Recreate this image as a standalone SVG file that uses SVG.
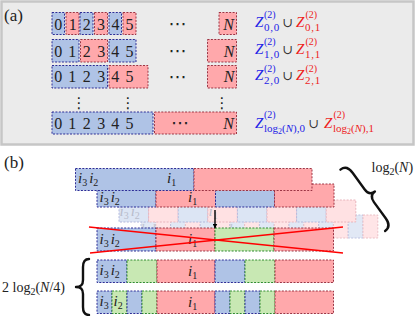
<svg xmlns="http://www.w3.org/2000/svg" width="416" height="316" viewBox="0 0 416 316">
<style>
.b{fill:#afc3e6;stroke:#2c2c96;stroke-width:1;stroke-dasharray:2 1.4}
.r{fill:#ffa8ab;stroke:#9c3444;stroke-width:1;stroke-dasharray:2 1.4}
.g{fill:#c8e8b3;stroke:#2f8c2f;stroke-width:1;stroke-dasharray:2 1.4}
.fb{fill:#dce5f4;stroke:#b3b8dc;stroke-width:1;stroke-dasharray:2 1.4}
.fr{fill:#ffe1e3;stroke:#e8b4bc;stroke-width:1;stroke-dasharray:2 1.4}
.t{font-family:"Liberation Serif",serif;font-size:16px;fill:#222}
.it{font-family:"Liberation Serif",serif;font-style:italic;font-size:15px;fill:#222}
.fi{font-family:"Liberation Serif",serif;font-style:italic;font-size:15px;fill:#b8bccb}
.s{font-style:normal;font-size:10px}
.dots{font-family:"DejaVu Sans",sans-serif;font-size:18px;fill:#222;text-anchor:middle}
.zb{font-family:"Liberation Serif",serif;font-style:italic;font-size:15px;fill:#2222e6}
.zr{font-family:"Liberation Serif",serif;font-style:italic;font-size:15px;fill:#ee1c1c}
.sp{font-family:"Liberation Serif",serif;font-size:10px}
.sb{font-family:"Liberation Serif",serif;font-size:11px;letter-spacing:0.8px}
.cup{font-family:"DejaVu Serif",serif;font-size:13px;fill:#333;text-anchor:middle}
.xl{stroke:#ff0000;stroke-width:1.6;fill:none}
.br{fill:none;stroke:#111;stroke-width:2.4;stroke-linecap:round;stroke-linejoin:round}
</style>
<defs>
<marker id="ah" viewBox="0 0 10 10" refX="9" refY="5" markerWidth="5" markerHeight="5" orient="auto" markerUnits="userSpaceOnUse">
<path d="M0,0 L10,5 L0,10 z" fill="#000"/>
</marker>
</defs>

<!-- Panel (a) -->
<g id="panel-a">
<rect x="1.5" y="1.5" width="412" height="143" fill="#ebebeb" stroke="#c6c6c6" stroke-width="2.5"/>
<text x="4" y="21" class="t" style="font-size:17px">(a)</text>
</g>

<g id="a-row1">
<rect class="b" x="52" y="12.5" width="12.5" height="22"/>
<rect class="r" x="66" y="12.5" width="13" height="22"/>
<rect class="b" x="80" y="12.5" width="13" height="22"/>
<rect class="r" x="94.5" y="12.5" width="13" height="22"/>
<rect class="b" x="109" y="12.5" width="12.5" height="22"/>
<rect class="r" x="123" y="12.5" width="13" height="22"/>
<rect class="r" x="219" y="12.5" width="17.5" height="22"/>
<text class="t" y="29.5" text-anchor="middle"><tspan x="58.3">0</tspan><tspan x="72.7">1</tspan><tspan x="86.7">2</tspan><tspan x="100.9">3</tspan><tspan x="115.5">4</tspan><tspan x="129.4">5</tspan></text>
<text class="dots" x="177.5" y="29.5">⋯</text>
<text class="it" style="font-size:16px" x="228.5" y="29.5" text-anchor="middle">N</text>
</g>

<g id="a-row2">
<rect class="b" x="52" y="39.5" width="27" height="22.5"/>
<rect class="r" x="80.5" y="39.5" width="27" height="22.5"/>
<rect class="b" x="109" y="39.5" width="27" height="22.5"/>
<rect class="r" x="207.5" y="39.5" width="29" height="22.5"/>
<text class="t" y="56.5" text-anchor="middle"><tspan x="58.3">0</tspan><tspan x="72.3">1</tspan><tspan x="86.7">2</tspan><tspan x="101.2">3</tspan><tspan x="115.3">4</tspan><tspan x="129.4">5</tspan></text>
<text class="dots" x="177.5" y="57">⋯</text>
<text class="it" style="font-size:16px" x="229" y="56.5" text-anchor="middle">N</text>
</g>

<g id="a-row3">
<rect class="b" x="52" y="65.5" width="55.5" height="22.5"/>
<rect class="r" x="109" y="65.5" width="39" height="22.5"/>
<rect class="r" x="207.5" y="65.5" width="29" height="22.5"/>
<text class="t" y="82" text-anchor="middle"><tspan x="58.3">0</tspan><tspan x="72.3">1</tspan><tspan x="86.7">2</tspan><tspan x="101.2">3</tspan><tspan x="115.3">4</tspan><tspan x="129.4">5</tspan></text>
<text class="dots" x="177.5" y="82.5">⋯</text>
<text class="it" style="font-size:16px" x="229" y="82" text-anchor="middle">N</text>
</g>

<g id="a-vdots">
<text class="dots" style="font-size:15px" x="79" y="108">⋮</text>
<text class="dots" style="font-size:15px" x="128" y="108">⋮</text>
<text class="dots" style="font-size:15px" x="222" y="108">⋮</text>
</g>

<g id="a-row4">
<rect class="b" x="52" y="112" width="101" height="22"/>
<rect class="r" x="154.5" y="112" width="82" height="22"/>
<text class="t" y="128.5" text-anchor="middle"><tspan x="58.3">0</tspan><tspan x="72.3">1</tspan><tspan x="86.7">2</tspan><tspan x="101.2">3</tspan><tspan x="115.3">4</tspan><tspan x="129.4">5</tspan></text>
<text class="dots" x="180" y="129">⋯</text>
<text class="it" style="font-size:16px" x="228.5" y="128.5" text-anchor="middle">N</text>
</g>

<g id="a-labels">
<text class="zb" x="255" y="26.5">Z</text><text class="sp" fill="#2222e6" x="264" y="18">(2)</text><text class="sb" fill="#2222e6" x="264" y="30.5">0,0</text>
<text class="cup" x="288" y="26.5">∪</text>
<text class="zr" x="296" y="26.5">Z</text><text class="sp" fill="#ee1c1c" x="305.5" y="18">(2)</text><text class="sb" fill="#ee1c1c" x="305" y="30.5">0,1</text>

<text class="zb" x="255" y="53.5">Z</text><text class="sp" fill="#2222e6" x="264" y="45">(2)</text><text class="sb" fill="#2222e6" x="264" y="57.5">1,0</text>
<text class="cup" x="288" y="53.5">∪</text>
<text class="zr" x="296" y="53.5">Z</text><text class="sp" fill="#ee1c1c" x="305.5" y="45">(2)</text><text class="sb" fill="#ee1c1c" x="305" y="57.5">1,1</text>

<text class="zb" x="255" y="80">Z</text><text class="sp" fill="#2222e6" x="264" y="71.5">(2)</text><text class="sb" fill="#2222e6" x="264" y="84">2,0</text>
<text class="cup" x="288" y="80">∪</text>
<text class="zr" x="296" y="80">Z</text><text class="sp" fill="#ee1c1c" x="305.5" y="71.5">(2)</text><text class="sb" fill="#ee1c1c" x="305" y="84">2,1</text>

<text class="zb" x="255" y="128">Z</text><text class="sp" fill="#2222e6" x="264" y="118">(2)</text>
<text font-family="Liberation Serif, serif" font-size="11" fill="#2222e6" x="264" y="131.5">log<tspan font-size="8" dy="2">2</tspan><tspan dy="-2">(</tspan><tspan font-style="italic">N</tspan>),0</text>
<text class="cup" x="314" y="128">∪</text>
<text class="zr" x="324" y="128">Z</text><text class="sp" fill="#ee1c1c" x="333.5" y="118">(2)</text>
<text font-family="Liberation Serif, serif" font-size="11" fill="#ee1c1c" x="333" y="131.5">log<tspan font-size="8" dy="2">2</tspan><tspan dy="-2">(</tspan><tspan font-style="italic">N</tspan>),1</text>
</g>

<!-- Panel (b) -->
<g id="panel-b">
<text x="4" y="168" class="t" style="font-size:17px">(b)</text>
</g>

<g id="b-row4" opacity="0.85">
<rect class="fb" x="141" y="215" width="14.8" height="23"/>
<rect class="fr" x="155.8" y="215" width="14.8" height="23"/>
<rect class="fb" x="170.6" y="215" width="14.8" height="23"/>
<rect class="fr" x="185.4" y="215" width="14.8" height="23"/>
<rect class="fb" x="200.2" y="215" width="14.8" height="23"/>
<rect class="fr" x="215" y="215" width="14.8" height="23"/>
<rect class="fb" x="229.8" y="215" width="14.8" height="23"/>
<rect class="fr" x="244.6" y="215" width="14.8" height="23"/>
<rect class="fb" x="259.4" y="215" width="14.8" height="23"/>
<rect class="fr" x="274.2" y="215" width="14.8" height="23"/>
<rect class="fb" x="289" y="215" width="14.8" height="23"/>
<rect class="fr" x="303.8" y="215" width="14.8" height="23"/>
<rect class="fb" x="318.6" y="215" width="14.8" height="23"/>
<rect class="fr" x="333.4" y="215" width="14.8" height="23"/>
<rect class="fb" x="348.2" y="215" width="14.8" height="23"/>
<rect class="fr" x="363" y="215" width="14.8" height="23"/>
<text class="fi" x="141" y="231">i<tspan class="s" dy="3">3</tspan><tspan dx="2" dy="-3">i</tspan><tspan class="s" dy="3">2</tspan></text>
<text class="fi" x="229" y="231">i<tspan class="s" dy="3">1</tspan></text>
</g>

<g id="b-row3">
<rect class="fb" x="119" y="200" width="29.6" height="22"/>
<rect class="fr" x="148.6" y="200" width="29.6" height="22"/>
<rect class="fb" x="178.2" y="200" width="29.6" height="22"/>
<rect class="fr" x="207.8" y="200" width="29.6" height="22"/>
<rect class="fb" x="237.4" y="200" width="29.6" height="22"/>
<rect class="fr" x="267" y="200" width="29.6" height="22"/>
<rect class="fb" x="296.6" y="200" width="29.6" height="22"/>
<rect class="fr" x="326.2" y="200" width="29.6" height="22"/>
<text class="fi" x="119.5" y="216">i<tspan class="s" dy="3">3</tspan><tspan dx="2" dy="-3">i</tspan><tspan class="s" dy="3">2</tspan></text>
<text class="fi" x="208.5" y="216">i<tspan class="s" dy="3">1</tspan></text>
</g>

<g id="b-row2">
<rect class="b" x="97" y="184" width="59" height="23"/>
<rect class="r" x="156" y="184" width="59.5" height="23"/>
<rect class="b" x="215.5" y="184" width="59" height="23"/>
<rect class="r" x="274.5" y="184" width="59.5" height="23"/>
<text class="it" x="99.5" y="201.5">i<tspan class="s" dy="3">3</tspan><tspan dx="2" dy="-3">i</tspan><tspan class="s" dy="3">2</tspan></text>
<text class="it" x="188" y="201.5">i<tspan class="s" dy="3">1</tspan></text>
</g>

<g id="b-row1">
<rect class="b" x="75.5" y="168.5" width="118.5" height="22"/>
<rect class="r" x="194" y="168.5" width="118" height="22"/>
<text class="it" x="78" y="183">i<tspan class="s" dy="3">3</tspan><tspan dx="2" dy="-3">i</tspan><tspan class="s" dy="3">2</tspan></text>
<text class="it" x="167" y="183">i<tspan class="s" dy="3">1</tspan></text>
</g>

<g id="b-crossed">
<rect class="b" x="97" y="228" width="59" height="23"/>
<rect class="r" x="156" y="228" width="59" height="23"/>
<rect class="g" x="215" y="228" width="59" height="23"/>
<rect class="r" x="274" y="228" width="59.5" height="23"/>
<text class="it" x="99.5" y="243.5">i<tspan class="s" dy="3">3</tspan><tspan dx="2" dy="-3">i</tspan><tspan class="s" dy="3">2</tspan></text>
<text class="it" x="188" y="243.5">i<tspan class="s" dy="3">1</tspan></text>
</g>

<g id="b-rowL1">
<rect class="b" x="97" y="260" width="30" height="22.5"/>
<rect class="g" x="127" y="260" width="30" height="22.5"/>
<rect class="r" x="157" y="260" width="58" height="22.5"/>
<rect class="b" x="215" y="260" width="30" height="22.5"/>
<rect class="g" x="245" y="260" width="30" height="22.5"/>
<rect class="r" x="275" y="260" width="58.5" height="22.5"/>
<text class="it" x="99.5" y="275">i<tspan class="s" dy="3">3</tspan><tspan dx="2" dy="-3">i</tspan><tspan class="s" dy="3">2</tspan></text>
<text class="it" x="188" y="275.5">i<tspan class="s" dy="3">1</tspan></text>
</g>

<g id="b-rowL2">
<rect class="b" x="97" y="291" width="15" height="22.5"/>
<rect class="g" x="112" y="291" width="15" height="22.5"/>
<rect class="b" x="127" y="291" width="15" height="22.5"/>
<rect class="g" x="142" y="291" width="15" height="22.5"/>
<rect class="r" x="157" y="291" width="58" height="22.5"/>
<rect class="b" x="215" y="291" width="15" height="22.5"/>
<rect class="g" x="230" y="291" width="15" height="22.5"/>
<rect class="b" x="245" y="291" width="15" height="22.5"/>
<rect class="g" x="260" y="291" width="15" height="22.5"/>
<rect class="r" x="275" y="291" width="58.5" height="22.5"/>
<text class="it" x="99.5" y="306">i<tspan class="s" dy="3">3</tspan></text>
<text class="it" x="113.5" y="306">i<tspan class="s" dy="3">2</tspan></text>
<text class="it" x="188" y="306.5">i<tspan class="s" dy="3">1</tspan></text>
</g>

<g id="connectors">
<line x1="215" y1="210" x2="215" y2="228" stroke="#000" stroke-width="1.4" marker-end="url(#ah)"/>
<line class="xl" x1="89" y1="227" x2="343" y2="253"/>
<line class="xl" x1="90" y1="253" x2="343" y2="227"/>
</g>

<g id="brace-log">
<path class="br" transform="translate(366,198) rotate(-36)" d="M-4,-38 Q4,-38 4,-28 L4,-8 Q4,0 11,0 Q4,0 4,8 L4,28 Q4,38 -4,38"/>
<text font-family="Liberation Serif, serif" font-size="14" fill="#222" x="371.5" y="171.5">log<tspan font-size="10" dy="3">2</tspan><tspan dy="-3">(</tspan><tspan font-style="italic">N</tspan>)</text>
</g>

<g id="brace-2log">
<path class="br" transform="translate(85,287)" d="M4,-28 Q-2,-28 -2,-20 L-2,-7 Q-2,0 -9,0 Q-2,0 -2,7 L-2,20 Q-2,28 4,28"/>
<text font-family="Liberation Serif, serif" font-size="14" fill="#222" x="2" y="291.5">2 log<tspan font-size="10" dy="3">2</tspan><tspan dy="-3">(</tspan><tspan font-style="italic">N</tspan>/4)</text>
</g>
</svg>
